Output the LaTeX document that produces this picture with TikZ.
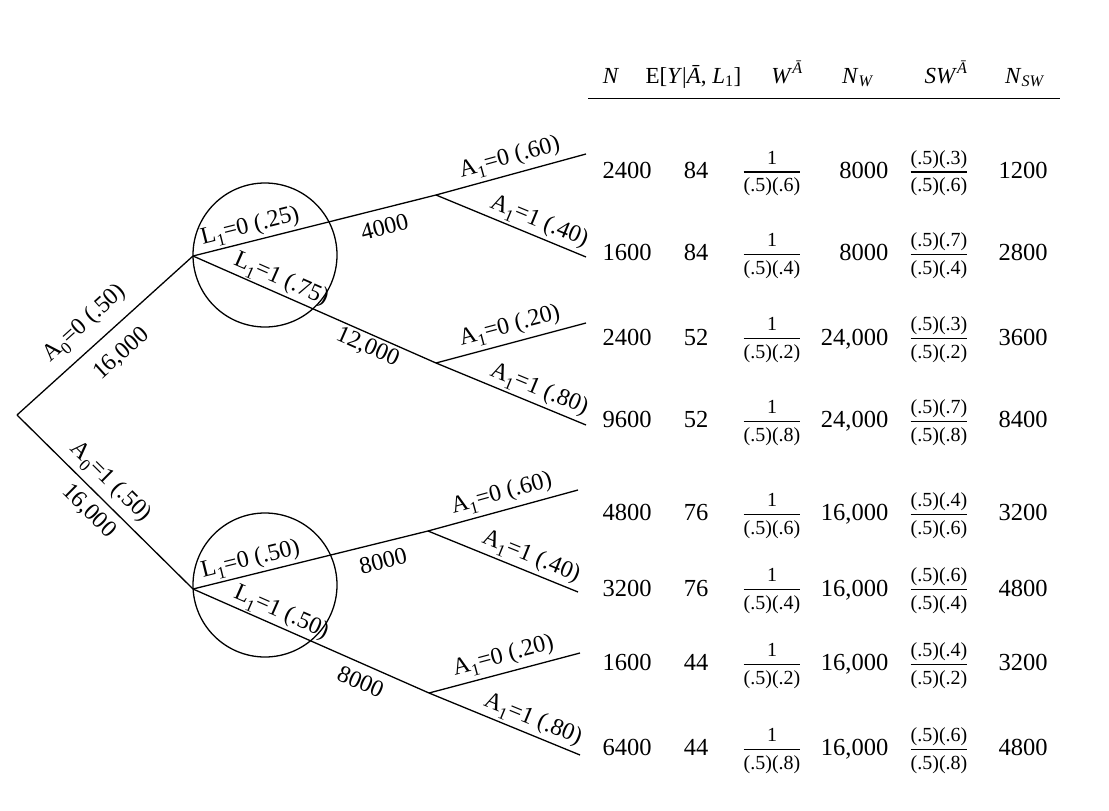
\documentclass[tikz,border=0pt]{standalone}
\usepackage{amsmath}
\usepackage{fontspec}
\setmainfont{Liberation Serif}
\newcommand{\fsmall}{\fontsize{20}{22}\selectfont}
\newcommand{\lsub}[1]{\raisebox{-6pt}{\fontsize{17}{20}\selectfont #1}}
\newcommand{\myfrac}[2]{$\genfrac{}{}{1.2pt}{1}{\hbox{\fsmall\rule[-6.2pt]{0pt}{0pt}#1}}{\hbox{\fsmall\rule{0pt}{18pt}#2}}$}
\newcommand{\tabrow}[9]{%
  \node[cell] (#1n) at (627,#2+8.3) {#3};
  \node[cell] (#1e) at (696,#2+8.3) {#4};
  \node[cell] (#1w) at (772,#2+8.3) {\myfrac{1}{#5}};
  \node[cell, anchor=base east] (#1nw) at (889,#2+8.3) {#6};
  \node[cell] (#1sw) at (939,#2+8.3) {\myfrac{#7}{#8}};
  \node[cell] (#1nsw) at (1023,#2+8.3) {#9};
}
\begin{document}
\begin{tikzpicture}[x=1pt,y=-1pt,
  line width=1.3pt,
  lbl/.style={font=\fontsize{24}{28}\selectfont, inner sep=1pt, sloped},
  nlbl/.style={font=\fontsize{24}{28}\selectfont, inner sep=1pt, sloped},
  cell/.style={font=\fontsize{24.5}{28}\selectfont, anchor=base, inner sep=0pt},
  hdr/.style={font=\fontsize{23}{26}\selectfont, anchor=base, inner sep=0pt},
  ring/.style={circle, draw, minimum size=144pt, inner sep=0pt},
]
\useasboundingbox (0,0) rectangle (1109,811);
% tree points
\coordinate (root) at (17,415);
\coordinate (T) at (193,256);
\coordinate (B) at (193,589);
\coordinate (T0) at (436,195);
\coordinate (T1) at (436,363);
\coordinate (B0) at (428,531);
\coordinate (B1) at (429,693);
\coordinate (e1) at (586,154);
\coordinate (e2) at (586,257);
\coordinate (e3) at (586,323);
\coordinate (e4) at (586,425);
\coordinate (e5) at (578,490);
\coordinate (e6) at (578,592);
\coordinate (e7) at (580,653);
\coordinate (e8) at (580,755);
% circles
\node[ring] (cT) at (265,255) {};
\node[ring] (cB) at (265,585) {};
% first level
\draw (root) -- (T)
  node[lbl, above, pos=0.47, inner sep=10pt] {A\lsub{0}=0 (.50)}
  node[nlbl, below, pos=0.5, inner sep=14pt] {16,000};
\draw (root) -- (B)
  node[lbl, above, pos=0.46, inner sep=5.5pt] {A\lsub{0}=1 (.50)}
  node[nlbl, below, pos=0.48, inner sep=7.5pt] {16,000};
% second level
\draw (T) -- (T0)
  node[lbl, above, pos=0.25, inner sep=2pt] {L\lsub{1}=0 (.25)}
  node[nlbl, below, pos=0.77, inner sep=9.5pt] {4000};
\draw (T) -- (T1)
  node[lbl, above, pos=0.34, inner sep=1.5pt] {L\lsub{1}=1 (.75)}
  node[nlbl, below, pos=0.74, inner sep=2.5pt] {12,000};
\draw (B) -- (B0)
  node[lbl, above, pos=0.26, inner sep=2pt] {L\lsub{1}=0 (.50)}
  node[nlbl, below, pos=0.79, inner sep=9.5pt] {8000};
\draw (B) -- (B1)
  node[lbl, above, pos=0.35, inner sep=1.5pt] {L\lsub{1}=1 (.50)}
  node[nlbl, below, pos=0.74, inner sep=8.5pt] {8000};
% third level
\draw (T0) -- (e1) node[lbl, above, pos=0.52, inner sep=4pt] {A\lsub{1}=0 (.60)};
\draw (T0) -- (e2) node[lbl, above, pos=0.65, inner sep=2.5pt] {A\lsub{1}=1 (.40)};
\draw (T1) -- (e3) node[lbl, above, pos=0.52, inner sep=4pt] {A\lsub{1}=0 (.20)};
\draw (T1) -- (e4) node[lbl, above, pos=0.65, inner sep=2.5pt] {A\lsub{1}=1 (.80)};
\draw (B0) -- (e5) node[lbl, above, pos=0.52, inner sep=4pt] {A\lsub{1}=0 (.60)};
\draw (B0) -- (e6) node[lbl, above, pos=0.65, inner sep=2.5pt] {A\lsub{1}=1 (.40)};
\draw (B1) -- (e7) node[lbl, above, pos=0.52, inner sep=4pt] {A\lsub{1}=0 (.20)};
\draw (B1) -- (e8) node[lbl, above, pos=0.65, inner sep=2.5pt] {A\lsub{1}=1 (.80)};
% header
\node[hdr] (hN) at (611,83) {\textit{N}};
\node[hdr] (hE) at (693.5,83) {E[\textit{Y}|\textit{Ā}, \textit{L}\textsubscript{1}]};
\node[hdr] (hW) at (787,83) {\textit{W}\textsuperscript{\textit{Ā}}};
\node[hdr] (hNW) at (858,83) {\textit{N}\textsubscript{\textit{W}}};
\node[hdr] (hSW) at (946,83) {\textit{SW}\textsuperscript{\textit{Ā}}};
\node[hdr] (hNSW) at (1025,83) {\textit{N}\textsubscript{\textit{SW}}};
\coordinate (rl) at (588,98.5);
\coordinate (rr) at (1060,98.5);
\draw (rl) -- (rr);
% rows
\tabrow{ra}{170}{2400}{84}{(.5)(.6)}{8000}{(.5)(.3)}{(.5)(.6)}{1200}
\tabrow{rb}{252.3}{1600}{84}{(.5)(.4)}{8000}{(.5)(.7)}{(.5)(.4)}{2800}
\tabrow{rc}{336.7}{2400}{52}{(.5)(.2)}{24,000}{(.5)(.3)}{(.5)(.2)}{3600}
\tabrow{rd}{419.3}{9600}{52}{(.5)(.8)}{24,000}{(.5)(.7)}{(.5)(.8)}{8400}
\tabrow{re}{512.3}{4800}{76}{(.5)(.6)}{16,000}{(.5)(.4)}{(.5)(.6)}{3200}
\tabrow{rf}{587.7}{3200}{76}{(.5)(.4)}{16,000}{(.5)(.6)}{(.5)(.4)}{4800}
\tabrow{rg}{662.3}{1600}{44}{(.5)(.2)}{16,000}{(.5)(.4)}{(.5)(.2)}{3200}
\tabrow{rh}{747.3}{6400}{44}{(.5)(.8)}{16,000}{(.5)(.6)}{(.5)(.8)}{4800}
\end{tikzpicture}
\end{document}
